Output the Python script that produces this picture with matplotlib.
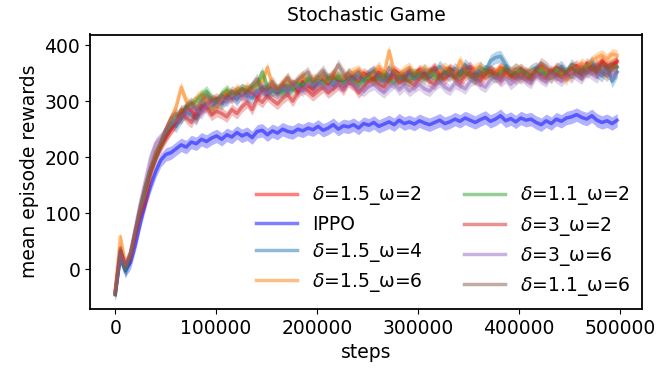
import numpy as np
import matplotlib
matplotlib.use("Agg")
import matplotlib.pyplot as plt

# ---------------------------------------------------------
# data (mean episode reward per eval)
# ---------------------------------------------------------

steps = np.linspace(0, 497500, 100)

labels = [
    r"$\delta$=1.5_ω=2",
    "IPPO",
    r"$\delta$=1.5_ω=4",
    r"$\delta$=1.5_ω=6",
    r"$\delta$=1.1_ω=2",
    r"$\delta$=3_ω=2",
    r"$\delta$=3_ω=6",
    r"$\delta$=1.1_ω=6",
]

d15_w2 = [
    -40, 35, 5, 28, 68, 110, 145, 178, 205, 222, 238, 250, 262, 275, 290, 282, 270, 285, 295, 300,
    305, 298, 312, 305, 318, 310, 320, 315, 308, 322, 318, 325, 315, 328, 322, 330, 318, 335, 328, 322,
    335, 340, 330, 345, 336, 338, 348, 342, 335, 350, 344, 338, 352, 346, 340, 355, 348, 342, 350, 345,
    356, 348, 352, 360, 345, 350, 358, 352, 346, 355, 362, 350, 345, 356, 352, 348, 360, 354, 346, 352,
    358, 350, 345, 356, 362, 352, 348, 360, 355, 345, 358, 364, 352, 368, 356, 360, 372, 362, 366, 370,
]
ippo = [
    -45, 20, -2, 12, 45, 85, 120, 150, 175, 195, 205, 208, 215, 222, 218, 227, 224, 232, 228, 234,
    238, 232, 240, 236, 244, 238, 242, 235, 246, 248, 240, 247, 243, 250, 246, 244, 250, 247, 252, 249,
    255, 248, 252, 258, 250, 256, 254, 258, 252, 260, 257, 262, 255, 259, 263, 258, 266, 260, 263, 259,
    265, 261, 258, 262, 266, 260, 263, 268, 264, 270, 266, 262, 267, 271, 264, 268, 274, 265, 269, 263,
    270, 266, 268, 262, 258, 265, 260, 268, 264, 270, 272, 276, 271, 268, 274, 266, 262, 265, 260, 266,
]
d15_w4 = [
    -42, 30, -5, 22, 70, 115, 150, 180, 200, 225, 240, 262, 255, 270, 280, 275, 268, 290, 298, 285,
    300, 295, 305, 312, 302, 316, 310, 305, 318, 325, 312, 320, 315, 322, 318, 328, 324, 330, 336, 326,
    332, 345, 338, 328, 342, 335, 350, 340, 345, 336, 348, 352, 340, 335, 346, 350, 342, 338, 352, 340,
    348, 355, 342, 350, 362, 352, 345, 358, 350, 365, 356, 348, 360, 352, 372, 378, 380, 365, 350, 358,
    352, 345, 355, 360, 348, 352, 342, 356, 362, 350, 365, 355, 348, 360, 370, 352, 345, 362, 335, 352,
]
d15_w6 = [
    -38, 58, 10, 30, 72, 112, 150, 180, 205, 225, 250, 268, 290, 325, 300, 290, 305, 312, 300, 285,
    290, 305, 318, 310, 322, 315, 325, 318, 330, 335, 360, 328, 320, 332, 340, 325, 335, 345, 330, 340,
    338, 345, 335, 350, 342, 340, 348, 352, 355, 345, 342, 350, 362, 348, 390, 352, 345, 355, 360, 348,
    352, 358, 350, 346, 355, 360, 352, 348, 372, 356, 350, 358, 362, 345, 355, 350, 360, 345, 352, 358,
    350, 345, 355, 348, 360, 352, 342, 356, 350, 338, 362, 356, 368, 360, 372, 378, 382, 375, 384, 382,
]
d11_w2 = [
    -46, 25, 0, 25, 66, 108, 142, 176, 200, 222, 245, 258, 270, 282, 288, 295, 300, 310, 318, 305,
    298, 312, 320, 310, 316, 322, 318, 325, 330, 352, 325, 318, 322, 315, 328, 320, 332, 326, 340, 332,
    338, 330, 342, 336, 345, 332, 340, 335, 328, 338, 344, 336, 342, 348, 338, 332, 345, 340, 335, 350,
    346, 340, 352, 345, 338, 350, 355, 342, 348, 352, 345, 338, 350, 356, 348, 342, 352, 358, 345, 350,
    355, 348, 342, 352, 358, 346, 350, 356, 348, 352, 360, 354, 348, 362, 358, 352, 366, 358, 364, 360,
]
d3_w2 = [
    -44, 32, 8, 20, 62, 100, 120, 170, 198, 218, 235, 250, 262, 285, 270, 262, 280, 292, 288, 275,
    282, 278, 272, 285, 278, 290, 298, 285, 305, 298, 310, 302, 295, 305, 312, 300, 315, 325, 318, 310,
    318, 325, 315, 322, 330, 320, 335, 328, 315, 325, 335, 340, 330, 325, 338, 345, 332, 340, 335, 328,
    340, 348, 335, 330, 345, 338, 350, 342, 332, 345, 352, 340, 335, 348, 355, 345, 338, 352, 346, 340,
    350, 342, 338, 352, 345, 340, 355, 348, 342, 350, 360, 352, 345, 356, 362, 350, 368, 358, 362, 372,
]
d3_w6 = [
    -40, 28, 6, 30, 75, 120, 160, 200, 225, 235, 248, 260, 265, 272, 280, 290, 285, 278, 292, 300,
    295, 305, 300, 310, 305, 312, 308, 318, 312, 320, 315, 322, 318, 326, 320, 330, 325, 318, 332, 328,
    335, 328, 322, 335, 330, 325, 338, 330, 322, 318, 326, 330, 322, 315, 325, 332, 320, 328, 318, 325,
    330, 322, 318, 328, 335, 325, 320, 332, 328, 322, 335, 340, 330, 325, 338, 345, 335, 342, 330, 338,
    345, 338, 332, 348, 340, 335, 350, 342, 336, 345, 352, 346, 340, 355, 348, 342, 358, 350, 345, 352,
]
d11_w6 = [
    -43, 38, 2, 26, 70, 112, 150, 182, 210, 228, 250, 270, 278, 268, 290, 298, 285, 300, 310, 302,
    298, 310, 305, 318, 312, 322, 315, 328, 340, 318, 325, 335, 320, 330, 342, 328, 338, 345, 352, 335,
    345, 355, 340, 348, 365, 350, 338, 345, 352, 342, 348, 355, 345, 338, 360, 350, 342, 348, 355, 345,
    352, 345, 350, 358, 342, 350, 355, 346, 352, 360, 345, 340, 352, 348, 355, 350, 345, 358, 352, 348,
    340, 352, 346, 355, 368, 362, 352, 345, 358, 350, 342, 356, 362, 350, 358, 365, 352, 345, 358, 362,
]

# half-width of the shaded band around each curve
spread = [10, 12, 11, 10, 10, 10, 10, 10]

series = [d15_w2, ippo, d15_w4, d15_w6, d11_w2, d3_w2, d3_w6, d11_w6]
colors = ["red", "blue", "tab:blue", "tab:orange", "tab:green", "tab:red", "tab:purple", "tab:brown"]

# ---------------------------------------------------------
# plot
# ---------------------------------------------------------

plt.rcParams["font.size"] = 13.5
plt.rcParams["axes.linewidth"] = 1.3

fig, ax = plt.subplots(figsize=(6.57, 3.75), dpi=100)
fig.subplots_adjust(left=0.137, right=0.977, top=0.908, bottom=0.176)

for vals, lab, col, sd in zip(series, labels, colors, spread):
    y = np.array(vals, dtype=float)
    ax.fill_between(steps, y - sd, y + sd, color=col, alpha=0.3, linewidth=0)
    ax.plot(steps, y, color=col, alpha=0.5, linewidth=2.5, label=lab)

ax.set_xlim(-25000, 522000)
ax.set_ylim(-71, 419)
ax.set_xticks([0, 100000, 200000, 300000, 400000, 500000])
ax.set_yticks([0, 100, 200, 300, 400])

ax.set_title("Stochastic Game", fontsize=13.5, pad=10)
ax.set_xlabel("steps")
ax.set_ylabel("mean episode rewards")

ax.legend(ncol=2, frameon=False, loc="lower right", handlelength=2.2,
          columnspacing=2.2, labelspacing=0.38, borderaxespad=0.2)

fig.savefig("out.png", dpi=100)
